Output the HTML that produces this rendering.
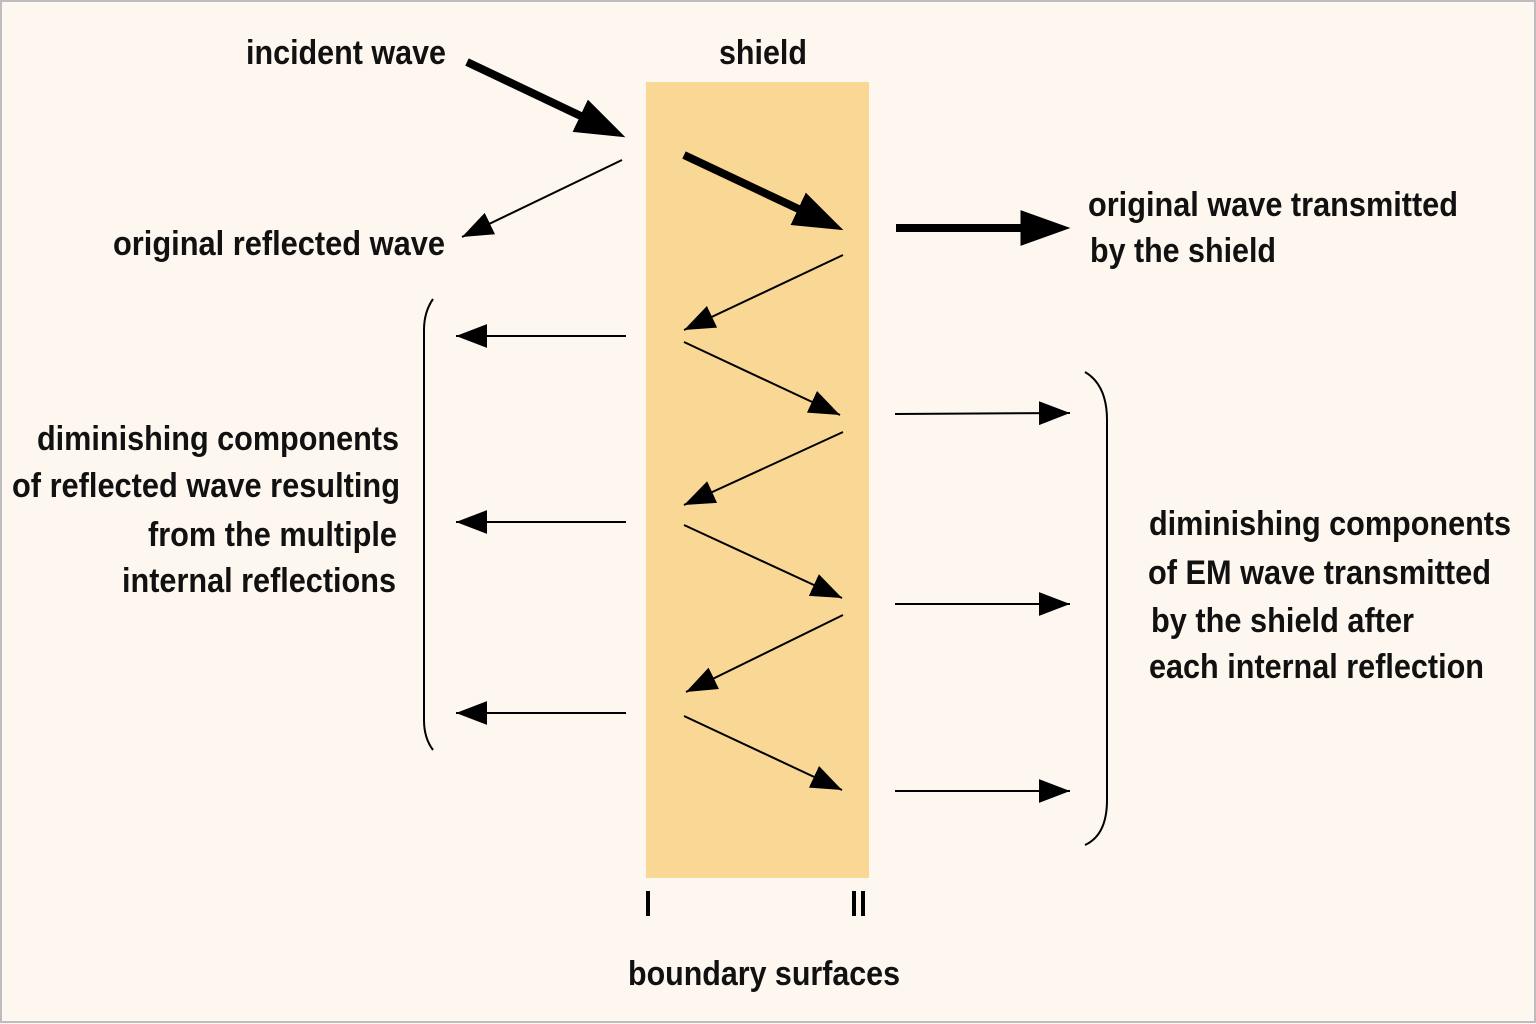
<!DOCTYPE html>
<html><head><meta charset="utf-8"><style>
html,body{margin:0;padding:0;background:#fdf7f0;}
svg{display:block}
text{font-family:"Liberation Sans",sans-serif;font-weight:bold;font-size:34px;fill:#111}
</style></head><body>
<svg width="1536" height="1024" viewBox="0 0 1536 1024" xmlns="http://www.w3.org/2000/svg">
<defs>
<marker id="h" viewBox="0 0 13 10" refX="13" refY="5" markerWidth="31" markerHeight="24" markerUnits="userSpaceOnUse" orient="auto"><path d="M0,0L13,5L0,10z" fill="#000"/></marker>
<marker id="H" viewBox="0 0 14 10" refX="8" refY="5" markerWidth="50" markerHeight="36" markerUnits="userSpaceOnUse" orient="auto"><path d="M0,0L14,5L0,10z" fill="#000"/></marker>
</defs>
<rect x="0" y="0" width="1536" height="1024" fill="#fdf7f0"/>
<rect x="1" y="1" width="1534" height="1021" fill="none" stroke="#bdbdbd" stroke-width="2"/>
<rect x="646" y="82" width="223" height="796" fill="#f9d896"/>
<g stroke="#000" fill="none" stroke-linecap="butt">
<line x1="467" y1="62" x2="606" y2="128" stroke-width="8" marker-end="url(#H)"/>
<line x1="684" y1="155" x2="824" y2="221" stroke-width="8" marker-end="url(#H)"/>
<line x1="896" y1="228" x2="1049" y2="228" stroke-width="8" marker-end="url(#H)"/>
<g stroke-width="2">
<line x1="622" y1="160" x2="462" y2="237" marker-end="url(#h)"/>
<line x1="843" y1="255" x2="684" y2="330" marker-end="url(#h)"/>
<line x1="684" y1="342" x2="840" y2="415" marker-end="url(#h)"/>
<line x1="843" y1="432" x2="684" y2="505" marker-end="url(#h)"/>
<line x1="684" y1="525" x2="842" y2="598" marker-end="url(#h)"/>
<line x1="843" y1="615" x2="686" y2="692" marker-end="url(#h)"/>
<line x1="684" y1="716" x2="842" y2="790" marker-end="url(#h)"/>
<line x1="626" y1="336" x2="456" y2="336" marker-end="url(#h)"/>
<line x1="626" y1="522" x2="456" y2="522" marker-end="url(#h)"/>
<line x1="626" y1="713" x2="456" y2="713" marker-end="url(#h)"/>
<line x1="895" y1="414" x2="1070" y2="413" marker-end="url(#h)"/>
<line x1="895" y1="604" x2="1070" y2="604" marker-end="url(#h)"/>
<line x1="895" y1="791" x2="1070" y2="791" marker-end="url(#h)"/>
<path d="M433,299 Q424,312 424,330 L424,720 Q424,738 433,750"/>
<path d="M1085,372 Q1107,385 1107,420 L1107,800 Q1107,835 1085,845"/>
</g>
<line x1="648" y1="891" x2="648" y2="916" stroke-width="4"/>
<line x1="854" y1="891" x2="854" y2="916" stroke-width="4"/>
<line x1="863" y1="891" x2="863" y2="916" stroke-width="4"/>
</g>
<text x="246" y="64" textLength="200" lengthAdjust="spacingAndGlyphs">incident wave</text>
<text x="719" y="64" textLength="88" lengthAdjust="spacingAndGlyphs">shield</text>
<text x="113" y="255" textLength="332" lengthAdjust="spacingAndGlyphs">original reflected wave</text>
<text x="1088" y="216" textLength="370" lengthAdjust="spacingAndGlyphs">original wave transmitted</text>
<text x="1090" y="262" textLength="186" lengthAdjust="spacingAndGlyphs">by the shield</text>
<text x="37" y="450" textLength="362" lengthAdjust="spacingAndGlyphs">diminishing components</text>
<text x="12" y="497" textLength="388" lengthAdjust="spacingAndGlyphs">of reflected wave resulting</text>
<text x="148" y="546" textLength="249" lengthAdjust="spacingAndGlyphs">from the multiple</text>
<text x="122" y="592" textLength="274" lengthAdjust="spacingAndGlyphs">internal reflections</text>
<text x="1149" y="535" textLength="362" lengthAdjust="spacingAndGlyphs">diminishing components</text>
<text x="1148" y="584" textLength="343" lengthAdjust="spacingAndGlyphs">of EM wave transmitted</text>
<text x="1151" y="632" textLength="263" lengthAdjust="spacingAndGlyphs">by the shield after</text>
<text x="1149" y="678" textLength="335" lengthAdjust="spacingAndGlyphs">each internal reflection</text>
<text x="628" y="985" textLength="272" lengthAdjust="spacingAndGlyphs">boundary surfaces</text>
</svg>
</body></html>
